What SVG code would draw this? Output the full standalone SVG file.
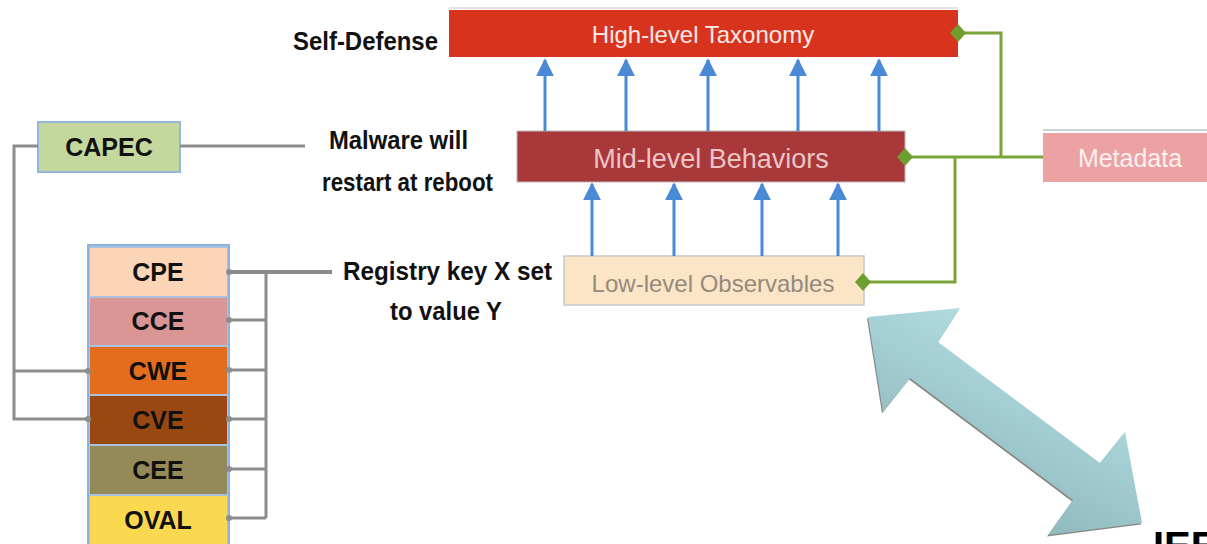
<svg xmlns="http://www.w3.org/2000/svg" width="1207" height="544" viewBox="0 0 1207 544">
<style>
.lbl{font-family:"Liberation Sans",Arial,sans-serif;font-weight:bold;font-size:25px;fill:#111;}
.box{font-family:"Liberation Sans",Arial,sans-serif;text-anchor:middle;}
.std{font-family:"Liberation Sans",Arial,sans-serif;font-weight:bold;font-size:25px;fill:#111;text-anchor:middle;}
.gray{stroke:#8c8c8c;stroke-width:3;fill:none;}
.green{stroke:#78a43a;stroke-width:3;fill:none;}
.blue{stroke:#4a89d6;stroke-width:3;}
.dm{fill:#6f9e30;}
.dot{fill:#8c8c8c;}
</style>
<defs>
<marker id="ah" viewBox="0 0 10 10" refX="9" refY="5" markerWidth="6" markerHeight="6.5" markerUnits="strokeWidth" orient="auto">
<path d="M0,0 L10,5 L0,10 z" fill="#4a89d6"/>
</marker>
<linearGradient id="tg" x1="0.75" y1="0.1" x2="0.25" y2="0.9">
<stop offset="0" stop-color="#b6e2e6"/>
<stop offset="1" stop-color="#8ab3b8"/>
</linearGradient>
</defs>
<rect width="1207" height="544" fill="#fff"/>

<g id="high">
<line x1="449" y1="8" x2="958" y2="8" stroke="#e3e3e3" stroke-width="2"/>
<rect x="449" y="10" width="509" height="47" fill="#d8341d"/>
<text class="box" x="703" y="43" font-size="24" fill="#fbeaea">High-level Taxonomy</text>
</g>
<g id="mid">
<rect x="517" y="131" width="388" height="51" fill="#a9383a" stroke="#b8b8b8" stroke-width="1"/>
<text class="box" x="711" y="168" font-size="27" fill="#ecc5c5">Mid-level Behaviors</text>
</g>
<g id="low">
<rect x="564" y="256" width="300" height="49" fill="#fbe5c6" stroke="#c8c8c8" stroke-width="1.5"/>
<text class="box" x="713" y="292" font-size="24" fill="#958a7c">Low-level Observables</text>
</g>
<g id="metadata">
<line x1="1043" y1="130" x2="1207" y2="130" stroke="#b9c3c8" stroke-width="1.5"/>
<rect x="1043" y="133" width="170" height="49" fill="#eca2a2"/>
<text class="box" x="1130" y="167" font-size="25" fill="#fdf0f0">Metadata</text>
</g>

<g id="self-defense"><text class="lbl" x="293" y="50" textLength="145" lengthAdjust="spacingAndGlyphs">Self-Defense</text></g>
<g id="malware">
<text class="lbl" x="329" y="149" textLength="139" lengthAdjust="spacingAndGlyphs">Malware will</text>
<text class="lbl" x="322" y="191" textLength="171" lengthAdjust="spacingAndGlyphs">restart at reboot</text>
</g>
<g id="registry">
<text class="lbl" x="343" y="280" textLength="209" lengthAdjust="spacingAndGlyphs">Registry key X set</text>
<text class="lbl" x="390" y="320" textLength="112" lengthAdjust="spacingAndGlyphs">to value Y</text>
</g>

<g id="capec">
<rect x="38" y="122" width="142" height="50" fill="#c4d79c" stroke="#95b6dc" stroke-width="2"/>
<text class="std" x="109" y="156">CAPEC</text>
</g>

<g id="stack">
<rect x="88" y="245" width="141" height="310" fill="#a9c2df" stroke="#8eb2e0" stroke-width="2"/>
<g id="cpe"><rect x="90" y="248" width="137" height="48" fill="#fbd5b5"/><text class="std" x="158" y="281">CPE</text></g>
<g id="cce"><rect x="90" y="298" width="137" height="47" fill="#da9694"/><text class="std" x="158" y="330">CCE</text></g>
<g id="cwe"><rect x="90" y="347" width="137" height="47" fill="#e46c1d"/><text class="std" x="158" y="380">CWE</text></g>
<g id="cve"><rect x="90" y="396" width="137" height="48" fill="#9a4812"/><text class="std" x="158" y="429">CVE</text></g>
<g id="cee"><rect x="90" y="446" width="137" height="48" fill="#938a58"/><text class="std" x="158" y="479">CEE</text></g>
<g id="oval"><rect x="90" y="496" width="137" height="50" fill="#fad950"/><text class="std" x="158" y="529">OVAL</text></g>
</g>

<!-- connectors -->
<g id="connectors">
<line class="blue" x1="545" y1="131" x2="545" y2="60" marker-end="url(#ah)"/>
<line class="blue" x1="626" y1="131" x2="626" y2="60" marker-end="url(#ah)"/>
<line class="blue" x1="708" y1="131" x2="708" y2="60" marker-end="url(#ah)"/>
<line class="blue" x1="798" y1="131" x2="798" y2="60" marker-end="url(#ah)"/>
<line class="blue" x1="879" y1="131" x2="879" y2="60" marker-end="url(#ah)"/>
<line class="blue" x1="592" y1="256" x2="592" y2="184" marker-end="url(#ah)"/>
<line class="blue" x1="674" y1="256" x2="674" y2="184" marker-end="url(#ah)"/>
<line class="blue" x1="762" y1="256" x2="762" y2="184" marker-end="url(#ah)"/>
<line class="blue" x1="838" y1="256" x2="838" y2="184" marker-end="url(#ah)"/>
<path class="green" d="M958,33 H1001 V157"/>
<path class="green" d="M905,157 H1043"/>
<path class="green" d="M955,157 V282 H863"/>
<path class="dm" d="M950,33 l8,-9 l8,9 l-8,9 z"/>
<path class="dm" d="M897,157 l8,-9 l8,9 l-8,9 z"/>
<path class="dm" d="M855,282 l8,-9 l8,9 l-8,9 z"/>
<path class="gray" d="M180,146 H305"/>
<path class="gray" d="M38,146 H14 V419 H88"/>
<path class="gray" d="M14,371 H88"/>
<path class="gray" d="M229,272 H332" style="stroke-width:4"/>
<path class="gray" d="M266,272 V518"/>
<path class="gray" d="M229,320 H266 M229,370 H266 M229,419 H266 M229,469 H266 M229,518 H266"/>
<circle class="dot" cx="88" cy="371" r="3"/>
<circle class="dot" cx="88" cy="419" r="3"/>
<circle class="dot" cx="229" cy="272" r="3"/>
<circle class="dot" cx="229" cy="320" r="3"/>
<circle class="dot" cx="229" cy="370" r="3"/>
<circle class="dot" cx="229" cy="419" r="3"/>
<circle class="dot" cx="229" cy="469" r="3"/>
<circle class="dot" cx="229" cy="518" r="3"/>
</g>

<g id="double-arrow">
<polygon points="868,317 960,308 938,342 1100,463 1125,432 1142,523 1048,535 1073,500 910,378 883,412" fill="#3a3a3a" opacity="0.6" transform="translate(-1,1.5)"/>
<polygon points="868,317 960,308 938,342 1100,463 1125,432 1142,523 1048,535 1073,500 910,378 883,412" fill="url(#tg)"/>
</g>

<g id="corner-text"><text x="1153" y="560" font-family="Liberation Sans, Arial, sans-serif" font-weight="bold" font-size="40" fill="#000">IEE</text></g>
</svg>
